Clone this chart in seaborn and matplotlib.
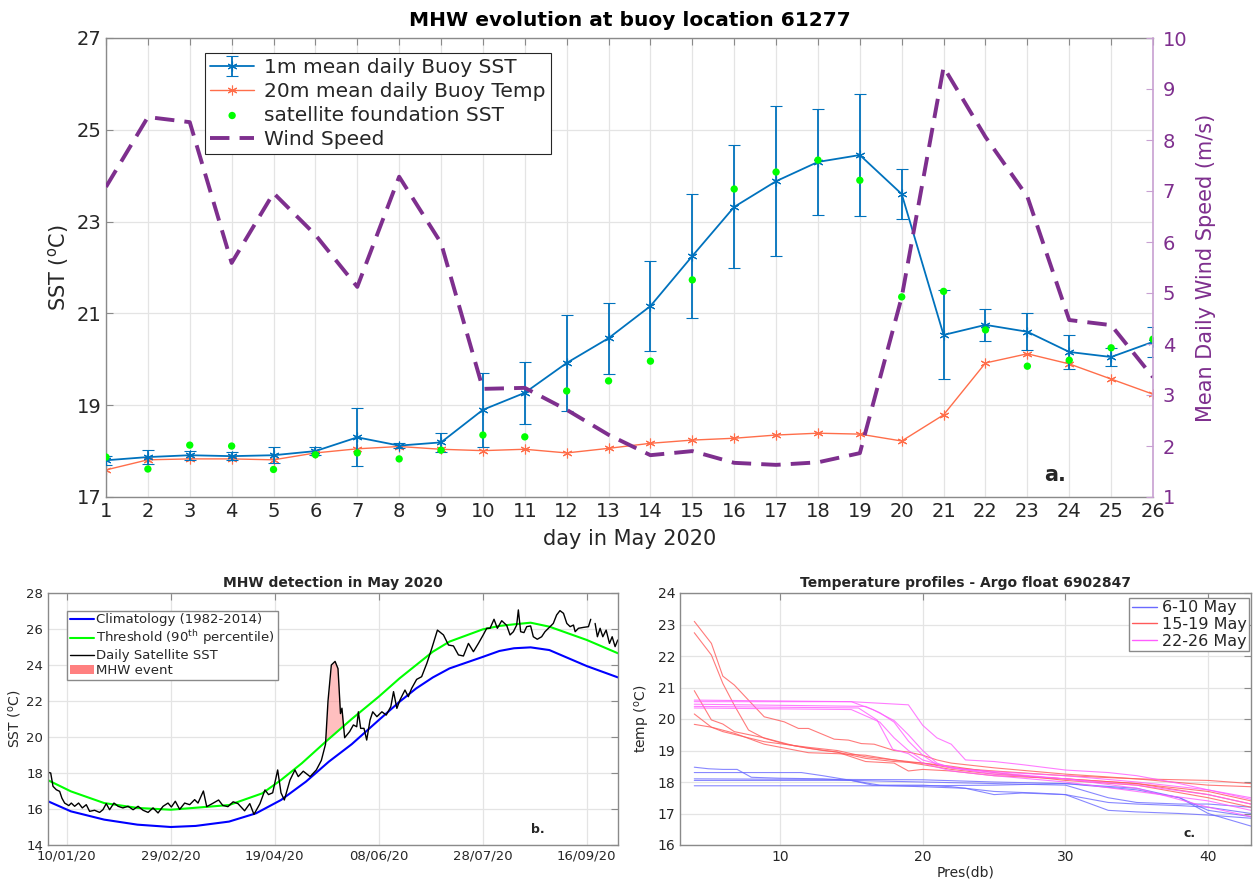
import numpy as np
import pandas as pd
import matplotlib
matplotlib.use("Agg")
import matplotlib.pyplot as plt
import matplotlib.dates as mdates
from matplotlib.patches import Patch
from matplotlib.lines import Line2D
import seaborn as sns

# ---------------- panel a: buoy 61277, days of May 2020 ----------------
may_day = np.arange(1, 27)
buoy_1m = [17.80, 17.87, 17.91, 17.89, 17.91, 18.00, 18.30, 18.12, 18.19, 18.90,
           19.27, 19.92, 20.46, 21.16, 22.25, 23.32, 23.88, 24.30, 24.45, 23.60,
           20.53, 20.75, 20.60, 20.16, 20.05, 20.38]
buoy_1m_err = [0.10, 0.15, 0.10, 0.08, 0.18, 0.08, 0.63, 0.06, 0.20, 0.80,
               0.68, 1.05, 0.77, 0.98, 1.35, 1.34, 1.63, 1.15, 1.33, 0.55,
               0.97, 0.35, 0.40, 0.38, 0.20, 0.33]
buoy_20m = [17.59, 17.81, 17.83, 17.83, 17.81, 17.96, 18.05, 18.10, 18.04, 18.01,
            18.04, 17.96, 18.06, 18.17, 18.24, 18.28, 18.35, 18.39, 18.37, 18.22,
            18.79, 19.92, 20.12, 19.90, 19.57, 19.24]
sat_found = [17.87, 17.61, 18.13, 18.11, 17.60, 17.92, 17.96, 17.83, 18.02, 18.35,
             18.31, 19.31, 19.53, 19.96, 21.73, 23.71, 24.08, 24.34, 23.90, 21.36,
             21.48, 20.64, 19.85, 19.98, 20.25, 20.44]
wind = [7.08, 8.45, 8.35, 5.59, 6.96, 6.14, 5.12, 7.28, 5.98, 3.12,
        3.14, 2.71, 2.22, 1.82, 1.90, 1.67, 1.63, 1.68, 1.86, 4.92,
        9.43, 8.06, 6.89, 4.47, 4.37, 3.35]

# ---------------- panel b: MHW detection (day of year 2020, 0 = 1 Jan) ----------------
clim_day = [0, 11, 27, 43, 59, 71, 87, 100, 112, 124, 135, 146, 159, 169, 177,
            185, 193, 209, 217, 224, 232, 241, 259, 274]
clim_sst = [16.43, 15.87, 15.41, 15.13, 15.00, 15.06, 15.30, 15.76, 16.50, 17.52,
            18.63, 19.60, 20.94, 21.96, 22.70, 23.31, 23.81, 24.45, 24.78, 24.93,
            24.98, 24.83, 23.94, 23.31]
thr_day = [0, 11, 27, 43, 59, 71, 87, 103, 112, 122, 133.5, 146, 159, 169, 177,
           185, 193, 209, 217, 224, 232, 241, 259, 274]
thr_sst = [17.60, 16.98, 16.33, 16.06, 15.96, 16.07, 16.22, 16.87, 17.61, 18.54,
           19.74, 21.00, 22.24, 23.26, 24.00, 24.74, 25.30, 25.98, 26.17, 26.26,
           26.35, 26.13, 25.39, 24.65]
sat_day = [0, 1.3, 2.4, 4, 5.6, 6.7, 8, 10, 11.2, 12.8, 14.7, 16.5, 18.4, 20, 22.4,
           24.8, 26.4, 28, 29.6, 31.7, 33.7, 36, 38.5, 40.9, 43.3, 45.7, 48.1, 50.5,
           52.9, 55.3, 57.7, 59.3, 61.2, 63.3, 65.7, 68.1, 70.5, 72.1, 74.7, 76.3,
           79, 82, 84, 86.5, 89, 91.3, 94.5, 97, 99, 101.9, 104.3, 106, 108, 110.4,
           112, 113.6, 116.3, 118.7, 120.3, 122.7, 126, 129, 131.4, 133.4, 134.6,
           136.2, 138, 139.4, 140.6, 141.3, 142.6, 145, 146.8, 148.4, 149.2, 150.3,
           151.9, 153.2, 154.8, 156.1, 158.1, 160.5, 162.6, 164.8, 166.1, 167.7,
           169.2, 171.6, 173.2, 174.8, 177.2, 179.6, 182.1, 184.5, 187.2, 190.1,
           192.5, 194.9, 197.3, 199.7, 202.1, 204.5, 206.9, 209.2, 210.9, 212.5,
           214.4, 216, 218.1, 220.5, 222.1, 223.7, 225.3, 226.1, 227.2, 228.8,
           230.1, 232, 233.3, 235.2, 237.3, 238.9, 241.3, 242.9, 244.5, 246.1,
           247.8, 249.4, 251, 252.6, 253.4, 255, 257.4, 259.8, 260.9, 262, 263,
           264.1, 265.4, 266.7, 268.3, 269.9, 271.2, 272.6, 273.9]
sat_sst = [18.04, 18.00, 17.26, 17.07, 16.98, 16.60, 16.33, 16.19, 16.33, 16.15,
           16.33, 16.06, 16.24, 15.87, 15.93, 15.81, 15.96, 16.30, 15.96, 16.33,
           16.15, 16.06, 16.15, 15.96, 16.15, 15.93, 15.81, 16.06, 15.78, 16.15,
           16.33, 16.11, 16.43, 15.98, 16.33, 16.24, 16.52, 16.33, 17.00, 16.13,
           16.30, 16.50, 16.20, 16.13, 16.40, 16.30, 15.90, 16.30, 15.70, 16.30,
           17.06, 16.80, 16.90, 18.17, 16.90, 16.50, 17.60, 18.17, 17.80, 18.10,
           17.80, 18.17, 18.70, 19.60, 22.00, 24.00, 24.20, 23.80, 21.30, 21.60,
           19.96, 20.30, 20.67, 20.57, 21.40, 20.48, 20.48, 19.83, 20.94, 21.40,
           21.13, 21.40, 21.22, 21.69, 22.52, 21.59, 22.06, 22.61, 22.24, 22.70,
           23.20, 23.35, 24.09, 24.93, 25.94, 25.67, 25.11, 25.06, 24.56, 24.50,
           25.20, 24.74, 25.20, 25.67, 26.04, 26.04, 26.54, 26.04, 26.46, 26.20,
           25.67, 25.85, 26.22, 27.06, 25.85, 25.80, 26.13, 26.17, 25.57, 25.43,
           25.57, 25.85, 26.13, 26.31, 26.78, 27.02, 26.87, 26.31, 26.13, 26.22,
           25.85, 26.04, 26.09, 26.13, 26.54, np.nan, 26.31, 25.57, 26.04, 25.57,
           25.94, 25.20, 25.57, 25.02, 25.39]
# MHW event: satellite SST above the threshold
mhw_day = [133.0, 134.6, 136.2, 138.0, 139.4, 140.6, 141.3, 142.1]
mhw_sst = [19.70, 22.00, 24.00, 24.20, 23.80, 21.30, 21.60, 20.65]
mhw_thr = [19.70, 19.85, 20.02, 20.20, 20.35, 20.48, 20.56, 20.65]

# ---------------- panel c: Argo float 6902847 profiles ----------------
blue_pres = [[4, 5, 6, 7, 8, 10, 13, 15, 17, 20, 22, 25, 28, 30, 33, 35, 38, 40, 43],
             [4, 11.5, 13, 15, 16.5, 20, 23, 25, 27, 30, 33, 35, 38, 40, 43],
             [4, 20, 25, 30, 35, 38, 40, 43],
             [4, 15, 20, 25, 30, 33, 35, 38, 40, 43],
             [4, 20, 25, 30, 35, 38, 40, 43]]
blue_temp = [[18.47, 18.42, 18.40, 18.40, 18.15, 18.12, 18.10, 18.05, 17.90, 17.90,
              17.85, 17.70, 17.65, 17.60, 17.35, 17.30, 17.25, 17.20, 17.00],
             [18.30, 18.30, 18.20, 18.05, 17.90, 17.85, 17.80, 17.60, 17.65, 17.60,
              17.10, 17.05, 17.00, 16.95, 16.85],
             [18.10, 18.07, 18.00, 17.95, 17.75, 17.50, 17.00, 16.60],
             [18.05, 18.05, 18.00, 17.95, 17.90, 17.50, 17.35, 17.30, 17.30, 17.20],
             [17.88, 17.88, 17.90, 17.95, 17.80, 17.50, 17.10, 16.90]]
red_pres = [[4, 5.2, 6, 6.8, 7.9, 8.9, 10.3, 11.3, 12, 13.8, 14.8, 15.7, 16.6, 18, 19,
             20, 21, 22, 25, 30, 35, 40, 43],
            [4, 5.2, 6, 6.8, 7.8, 8.9, 10.4, 12, 14, 16, 18, 20, 22, 25, 30, 35, 40, 43],
            [4, 5.2, 6, 6.8, 8.9, 11, 13, 14, 16, 18, 19, 20, 22, 25, 30, 35, 40, 43],
            [4, 5.2, 6, 8.9, 12, 14, 16, 18, 20, 22, 25, 30, 35, 40, 43],
            [4, 5.2, 6.8, 8.9, 10.4, 12, 14, 16, 18, 20, 22, 25, 30, 35, 40, 43]]
red_temp = [[23.10, 22.40, 21.36, 21.08, 20.55, 20.07, 19.91, 19.70, 19.70, 19.36,
             19.33, 19.22, 19.20, 19.00, 18.95, 18.85, 18.70, 18.60, 18.45, 18.25,
             18.10, 18.05, 17.95],
            [22.74, 22.03, 21.13, 20.44, 19.65, 19.39, 19.20, 19.07, 18.95, 18.75,
             18.65, 18.60, 18.45, 18.35, 18.20, 18.10, 17.90, 17.85],
            [20.90, 19.97, 19.84, 19.60, 19.40, 19.15, 19.00, 18.95, 18.65, 18.60,
             18.35, 18.40, 18.35, 18.20, 18.10, 17.95, 17.60, 17.30],
            [20.16, 19.74, 19.60, 19.28, 19.10, 19.00, 18.80, 18.70, 18.60, 18.50,
             18.30, 18.05, 17.90, 17.50, 17.20],
            [19.83, 19.74, 19.55, 19.20, 19.07, 18.93, 18.90, 18.85, 18.70, 18.55,
             18.40, 18.25, 18.10, 17.95, 17.70, 17.40]]
mag_pres = [[4, 15, 19, 20, 21, 22, 23, 25, 27, 30, 33, 35, 38, 40, 43],
            [4, 15, 16.5, 18, 19, 20, 21, 22, 25, 30, 35, 40, 43],
            [4, 16, 17, 18, 19, 20, 21, 23, 26, 30, 35, 40, 43],
            [4, 15.5, 16.8, 17.9, 19, 20, 22, 25, 30, 35, 40, 43],
            [4, 15, 16, 17, 18, 19, 20, 22, 25, 30, 35, 40, 43]]
mag_temp = [[20.55, 20.55, 20.45, 19.80, 19.40, 19.20, 18.70, 18.65, 18.55, 18.38,
             18.30, 18.20, 17.95, 17.75, 17.50],
            [20.60, 20.55, 20.30, 19.95, 19.50, 19.00, 18.60, 18.45, 18.25, 18.10,
             17.90, 17.60, 17.30],
            [20.47, 20.40, 20.20, 19.90, 19.30, 18.85, 18.55, 18.40, 18.30, 18.20,
             18.00, 17.75, 17.45],
            [20.40, 20.35, 19.97, 19.04, 18.90, 18.60, 18.35, 18.20, 18.00, 17.70,
             17.40, 17.10],
            [20.35, 20.30, 20.10, 19.90, 19.40, 19.00, 18.70, 18.45, 18.30, 18.10,
             17.80, 17.20, 16.90]]
argo_groups = ["6-10 May", "15-19 May", "22-26 May"]

# ---------------- style ----------------
sns.set_style("white")
plt.rcParams["font.family"] = ["DejaVu Sans"]
plt.rcParams["mathtext.default"] = "regular"

c_blue = "#0072BD"
c_orange = "#FF6E4A"
c_purple = "#7E2F8E"
c_grid = "#e4e4e4"
c_spine = "#8a8a8a"
c_text = "#262626"
asterisk = (6, 2, 0)

fig = plt.figure(figsize=(12.56, 8.81), dpi=100)
ax1 = fig.add_axes([106 / 1256, 1 - 497 / 881, 1047 / 1256, 459 / 881])
ax2 = fig.add_axes([48 / 1256, 1 - 845 / 881, 570 / 1256, 252 / 881])
ax3 = fig.add_axes([680 / 1256, 1 - 845 / 881, 571 / 1256, 252 / 881])


def matlab_box(ax, fs):
    for s in ax.spines.values():
        s.set_color(c_spine)
        s.set_linewidth(1.0)
    ax.tick_params(direction="in", length=5, width=0.8, color=c_spine,
                   labelsize=fs, labelcolor=c_text, top=True, right=True)
    ax.grid(True, color=c_grid, lw=0.9)
    ax.set_axisbelow(True)


# ---------------- panel a ----------------
matlab_box(ax1, 14)
ax1.tick_params(right=False)
ax1.spines["right"].set_visible(False)
ax1.errorbar(may_day, buoy_1m, yerr=buoy_1m_err, color=c_blue, lw=1.3,
             elinewidth=1.3, capsize=4, marker=asterisk, ms=7, mec=c_blue,
             mew=0.8, label="1m mean daily Buoy SST", zorder=3)
sns.lineplot(x=may_day, y=buoy_20m, ax=ax1, color=c_orange, lw=1.0,
             marker=asterisk, ms=7, mec=c_orange, mew=0.8,
             label="20m mean daily Buoy Temp", zorder=2)
sns.scatterplot(x=may_day, y=sat_found, ax=ax1, color="#00ff00", s=28,
                edgecolor="none", label="satellite foundation SST", zorder=4)
ax1.set_xlim(1, 26)
ax1.set_ylim(17, 27)
ax1.set_xticks(may_day)
ax1.set_yticks(np.arange(17, 28, 2))
ax1.set_xlabel("day in May 2020", fontsize=15, color=c_text, labelpad=6)
ax1.set_ylabel("SST ($^o$C)", fontsize=15, color=c_text, labelpad=4)
ax1.set_title("MHW evolution at buoy location 61277", fontsize=14.5,
              fontweight="bold", color="black", pad=9)
if ax1.get_legend() is not None:
    ax1.get_legend().remove()

axw = ax1.twinx()
sns.lineplot(x=may_day, y=wind, ax=axw, color=c_purple, lw=2.8,
             linestyle=(0, (5, 2.6)), label="Wind Speed")
axw.set_ylim(1, 10)
axw.set_yticks(np.arange(1, 11))
for side in ["left", "top", "bottom"]:
    axw.spines[side].set_visible(False)
axw.spines["right"].set_color("#c8a0d2")
axw.spines["right"].set_linewidth(1.2)
axw.tick_params(axis="y", direction="in", length=5, color="#c8a0d2",
                labelsize=14, labelcolor=c_purple, pad=7)
axw.set_ylabel("Mean Daily Wind Speed (m/s)", fontsize=15, color=c_purple,
               labelpad=6)
h1, l1 = ax1.get_legend_handles_labels()
h2, l2 = axw.get_legend_handles_labels()
if axw.get_legend() is not None:
    axw.get_legend().remove()
by_label = dict(zip(l1 + l2, h1 + h2))
leg_order = ["1m mean daily Buoy SST", "20m mean daily Buoy Temp",
             "satellite foundation SST", "Wind Speed"]
axw.legend([by_label[k] for k in leg_order], leg_order, loc="upper left",
           bbox_to_anchor=(0.0945, 0.968), fontsize=14.5, frameon=True,
           fancybox=False, edgecolor=c_text, framealpha=1, borderpad=0.25,
           labelspacing=0.25, handlelength=2.2, handletextpad=0.5,
           borderaxespad=0)
axw.get_legend().get_frame().set_linewidth(0.8)
ax1.text(0.906, 0.048, "a.", transform=ax1.transAxes, fontsize=15,
         fontweight="bold", ha="center", va="center")

# ---------------- panel b ----------------
start = pd.Timestamp("2020-01-01")
to_date = lambda d: start + pd.to_timedelta(np.asarray(d, dtype=float), unit="D")
matlab_box(ax2, 9.5)
sns.lineplot(x=to_date(clim_day), y=clim_sst, ax=ax2, color="#0000ff", lw=1.5)
sns.lineplot(x=to_date(thr_day), y=thr_sst, ax=ax2, color="#00ff00", lw=1.5)
ax2.fill_between(to_date(mhw_day), mhw_thr, mhw_sst, color="#ff8080", alpha=0.5,
                 lw=0, zorder=1)
sat_arr = np.asarray(sat_sst)
day_arr = np.asarray(sat_day)
gap = np.where(np.isnan(sat_arr))[0]
for seg_d, seg_t in zip(np.split(day_arr, gap), np.split(sat_arr, gap)):
    ok = ~np.isnan(seg_t)
    sns.lineplot(x=to_date(seg_d[ok]), y=seg_t[ok], ax=ax2, color="black", lw=1.0)
ax2.set_xlim(start, pd.Timestamp("2020-10-01"))
ax2.set_ylim(14, 28)
ax2.set_yticks(np.arange(14, 29, 2))
ax2.set_xticks(pd.date_range("2020-01-10", periods=6, freq="50D"))
ax2.xaxis.set_major_formatter(mdates.DateFormatter("%d/%m/%y"))
ax2.set_xlabel("")
ax2.set_ylabel("SST ($^o$C)", fontsize=10, color=c_text, labelpad=2)
ax2.set_title("MHW detection in May 2020", fontsize=10, fontweight="bold", pad=4)
leg_b = [Line2D([], [], color="#0000ff", lw=1.5),
         Line2D([], [], color="#00ff00", lw=1.5),
         Line2D([], [], color="black", lw=1.0),
         Patch(facecolor="#ff8080", edgecolor="none")]
ax2.legend(leg_b, ["Climatology (1982-2014)", "Threshold (90$^{th}$ percentile)",
                   "Daily Satellite SST", "MHW event"],
           loc="upper left", bbox_to_anchor=(0.034, 0.93), fontsize=9.5,
           fancybox=False, edgecolor=c_spine, framealpha=1, borderpad=0.2,
           labelspacing=0.15, handlelength=1.8, handletextpad=0.2,
           borderaxespad=0)
ax2.text(0.86, 0.06, "b.", transform=ax2.transAxes, fontsize=9,
         fontweight="bold", ha="center", va="center")

# ---------------- panel c ----------------
matlab_box(ax3, 10)
rows = []
for grp, pres_l, temp_l in zip(argo_groups, [blue_pres, red_pres, mag_pres],
                               [blue_temp, red_temp, mag_temp]):
    for k, (pp, tt) in enumerate(zip(pres_l, temp_l)):
        for p, t in zip(pp, tt):
            rows.append({"pres": p, "temp": t, "group": grp, "profile": f"{grp}_{k}"})
argo = pd.DataFrame(rows)
argo_pal = {"6-10 May": "#6a6aff", "15-19 May": "#ff5a5a", "22-26 May": "#ff5cff"}
sns.lineplot(data=argo, x="pres", y="temp", hue="group", units="profile",
             estimator=None, sort=False, palette=argo_pal, lw=0.8, alpha=0.8,
             ax=ax3, legend=False)
ax3.set_xlim(3, 43)
ax3.set_ylim(16, 24)
ax3.set_xticks([10, 20, 30, 40])
ax3.set_yticks(np.arange(16, 25, 1))
ax3.set_xlabel("Pres(db)", fontsize=10, color=c_text, labelpad=1)
ax3.set_ylabel("temp ($^o$C)", fontsize=10, color=c_text, labelpad=4)
ax3.set_title("Temperature profiles - Argo float 6902847", fontsize=10,
              fontweight="bold", pad=4)
leg_c = [Line2D([], [], color=argo_pal[g], lw=1.0) for g in argo_groups]
ax3.legend(leg_c, argo_groups, loc="upper right", bbox_to_anchor=(0.997, 0.98),
           fontsize=11.5, fancybox=False, edgecolor=c_spine, framealpha=1,
           borderpad=0.15, labelspacing=0.1, handlelength=1.6,
           handletextpad=0.3, borderaxespad=0)
ax3.text(0.892, 0.045, "c.", transform=ax3.transAxes, fontsize=9,
         fontweight="bold", ha="center", va="center")

fig.savefig("out.png", dpi=100)
plt.close(fig)
